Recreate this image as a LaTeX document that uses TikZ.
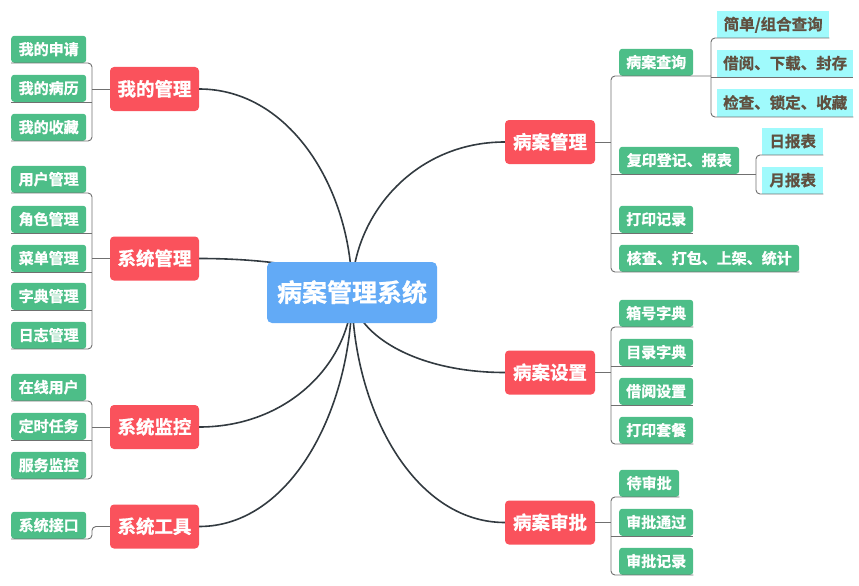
\documentclass[tikz,border=0pt]{standalone}
\usepackage{fontspec}
\setmainfont{Noto Sans CJK SC}[BoldFont={Noto Sans CJK SC Bold},BoldFeatures={FakeBold=1}]
\usetikzlibrary{calc}
\definecolor{leafg}{RGB}{77,190,136}
\definecolor{redn}{RGB}{250,82,92}
\definecolor{bluen}{RGB}{98,170,246}
\definecolor{cyann}{RGB}{160,250,252}
\definecolor{cytext}{RGB}{96,80,64}
\definecolor{curvec}{RGB}{50,58,64}
\definecolor{brkc}{RGB}{112,112,112}
\pgfdeclarelayer{bg}
\pgfsetlayers{bg,main}
\begin{document}
\begin{tikzpicture}[x=1pt,y=-1pt,
  leaf/.style={inner sep=0pt, fill=leafg, text=white, rounded corners=3pt,
    minimum height=27pt, minimum width=74pt, text height=12.3pt, text depth=1.2pt,
    font=\fontsize{15}{15}\selectfont\bfseries, anchor=south west},
  cyanbox/.style={inner sep=0pt, fill=cyann, text=cytext,
    minimum height=27pt, text height=12.7pt, text depth=1.3pt,
    font=\fontsize{15.5}{15.5}\selectfont\bfseries, anchor=south west},
  topic/.style={inner sep=0pt, fill=redn, text=white, rounded corners=4pt,
    minimum height=44pt, minimum width=89pt, text height=15.2pt, text depth=1.5pt,
    font=\fontsize{18.5}{18.5}\selectfont\bfseries},
  rootbox/.style={inner sep=0pt, fill=bluen, text=white, rounded corners=5pt,
    minimum height=61pt, minimum width=170pt, text height=20.5pt, text depth=2pt,
    font=\fontsize{25}{25}\selectfont\bfseries},
  brk/.style={draw=brkc, line width=0.9pt, rounded corners=4pt},
  curve/.style={draw=curvec, line width=1.6pt},
]
\useasboundingbox (0,0) rectangle (859,586);

% root
\node[rootbox] (root) at (352,292.5) {病案管理系统};
\coordinate (C) at (352,292);

% left topics
\node[topic] (g1) at (154.5,89) {我的管理};
\node[topic] (g2) at (154.5,258.5) {系统管理};
\node[topic] (g3) at (154.5,427) {系统监控};
\node[topic] (g4) at (154.5,526.5) {系统工具};
% right topics
\node[topic, minimum width=90pt] (r1) at (550,142) {病案管理};
\node[topic, minimum width=90pt] (r2) at (550,372.5) {病案设置};
\node[topic, minimum width=90pt] (r3) at (550,522.5) {病案审批};

% left leaves
\node[leaf, minimum width=75pt] (m1) at (11,63) {我的申请};
\node[leaf, minimum width=75pt] (m2) at (11,102) {我的病历};
\node[leaf, minimum width=75pt] (m3) at (11,141) {我的收藏};
\node[leaf, minimum width=75pt] (s1) at (11,193) {用户管理};
\node[leaf, minimum width=75pt] (s2) at (11,233) {角色管理};
\node[leaf, minimum width=75pt] (s3) at (11,272) {菜单管理};
\node[leaf, minimum width=75pt] (s4) at (11,310) {字典管理};
\node[leaf, minimum width=75pt] (s5) at (11,349) {日志管理};
\node[leaf, minimum width=75pt] (j1) at (11,401) {在线用户};
\node[leaf, minimum width=75pt] (j2) at (11,440) {定时任务};
\node[leaf, minimum width=75pt] (j3) at (11,479) {服务监控};
\node[leaf, minimum width=75pt] (t1) at (11,539) {系统接口};

% right leaves
\node[leaf] (a1) at (619,76) {病案查询};
\node[leaf, minimum width=120pt] (a2) at (619,174) {复印登记、报表};
\node[leaf] (a3) at (619,233) {打印记录};
\node[leaf, minimum width=180pt] (a4) at (619,272) {核查、打包、上架、统计};
\node[leaf] (b1) at (619,327) {箱号字典};
\node[leaf] (b2) at (619,366) {目录字典};
\node[leaf] (b3) at (619,405) {借阅设置};
\node[leaf] (b4) at (619,444) {打印套餐};
\node[leaf, minimum width=60pt] (c1) at (619,497) {待审批};
\node[leaf] (c2) at (619,536) {审批通过};
\node[leaf] (c3) at (619,575) {审批记录};

% cyan leaves
\node[cyanbox, minimum width=112pt] (q1) at (717,38) {简单/组合查询};
\node[cyanbox, minimum width=136pt] (q2) at (717,77) {借阅、下载、封存};
\node[cyanbox, minimum width=136pt, minimum height=28pt] (q3) at (717,117) {检查、锁定、收藏};
\node[cyanbox, minimum width=61pt] (d1) at (762,155) {日报表};
\node[cyanbox, minimum width=61pt] (d2) at (762,194) {月报表};

% main curves
\begin{pgfonlayer}{bg}
\draw[curve] (C) .. controls (352,190.5) and (290.8,89) .. (g1.east);
\draw[curve] (C) .. controls (352,275.25) and (290.8,258.5) .. (g2.east);
\draw[curve] (C) .. controls (352,359.5) and (290.8,427) .. (g3.east);
\draw[curve] (C) .. controls (352,409.25) and (290.8,526.5) .. (g4.east);
\draw[curve] (C) .. controls (352,217) and (413.2,142) .. (r1.west);
\draw[curve] (C) .. controls (352,332.25) and (413.2,372.5) .. (r2.west);
\draw[curve] (C) .. controls (352,407.25) and (413.2,522.5) .. (r3.west);
\end{pgfonlayer}

% bracket coordinates
\coordinate (k1) at (92,89);
\coordinate (k2) at (92,258.5);
\coordinate (k3) at (92,427);
\coordinate (k4) at (92,526.5);
\coordinate (k5) at (611,142);
\coordinate (k6) at (611,372.5);
\coordinate (k7) at (611,522.5);
\coordinate (e1) at (711,77);
\coordinate (e2) at (756,174);

% left brackets
\draw[brk] (m1.south west) -- (m1.south -| k1) -- (m3.south -| k1) -- (m3.south west);
\draw[brk] (m2.south west) -- (m2.south -| k1);
\draw[brk] (k1) -- (g1.west);

\draw[brk] (s1.south west) -- (s1.south -| k2) -- (s5.south -| k2) -- (s5.south west);
\draw[brk] (s2.south west) -- (s2.south -| k2);
\draw[brk] (s3.south west) -- (s3.south -| k2);
\draw[brk] (s4.south west) -- (s4.south -| k2);
\draw[brk] (k2) -- (g2.west);

\draw[brk] (j1.south west) -- (j1.south -| k3) -- (j3.south -| k3) -- (j3.south west);
\draw[brk] (j2.south west) -- (j2.south -| k3);
\draw[brk] (k3) -- (g3.west);

\draw[brk] (t1.south west) -- (t1.south -| k4) -- (k4) -- (g4.west);

% right brackets
\draw[brk] (r1.east) -- (k5);
\draw[brk] (a1.south -| e1) -- (a1.south -| k5) -- (a4.south -| k5) -- (a4.south east);
\draw[brk] (a2.south -| k5) -- (a2.south -| e2);
\draw[brk] (a3.south -| k5) -- (a3.south east);

\draw[brk] (q1.south east) -- (q1.south -| e1) -- (q3.south -| e1) -- (q3.south east);
\draw[brk] (q2.south -| e1) -- (q2.south east);

\draw[brk] (d1.south east) -- (d1.south -| e2) -- (d2.south -| e2) -- (d2.south east);

\draw[brk] (r2.east) -- (k6);
\draw[brk] (b1.south east) -- (b1.south -| k6) -- (b4.south -| k6) -- (b4.south east);
\draw[brk] (b2.south -| k6) -- (b2.south east);
\draw[brk] (b3.south -| k6) -- (b3.south east);

\draw[brk] (r3.east) -- (k7);
\draw[brk] (c1.south east) -- (c1.south -| k7) -- (c3.south -| k7) -- (c3.south east);
\draw[brk] (c2.south -| k7) -- (c2.south east);
\end{tikzpicture}
\end{document}
